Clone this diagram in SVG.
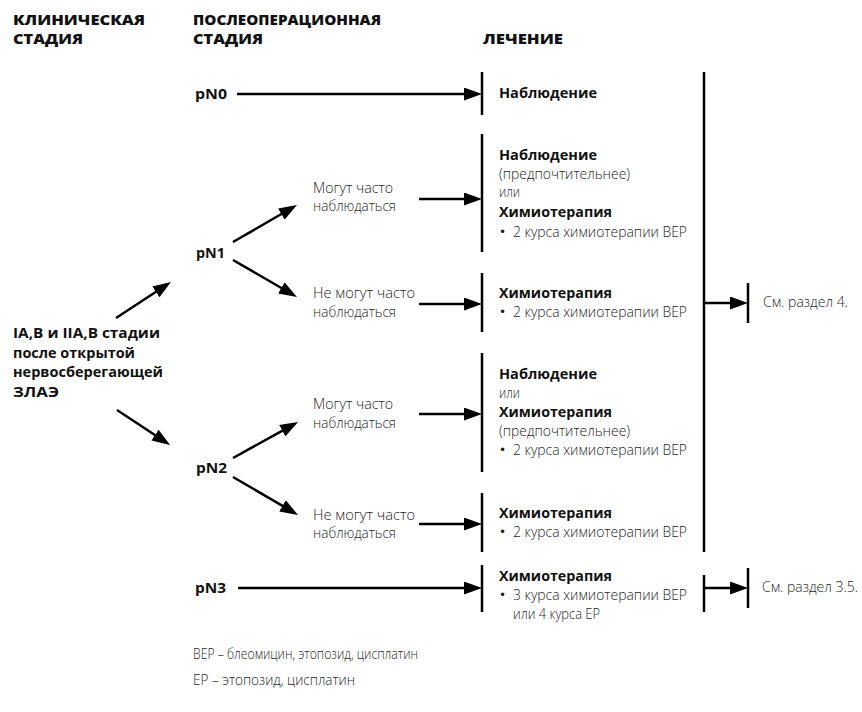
<svg xmlns="http://www.w3.org/2000/svg" width="862" height="712" viewBox="0 0 862 712">
<style>
.h{font-family:"Open Sans","Noto Sans",sans-serif;font-weight:800;font-size:14.5px;fill:#111}
.b{font-family:"Open Sans","Noto Sans",sans-serif;font-weight:700;font-size:14px;fill:#111}
.l{font-family:"Open Sans","Noto Sans",sans-serif;font-weight:300;font-size:14.5px;fill:#1e1e1e}
.dot{font-family:"DejaVu Sans",sans-serif;font-size:12px;fill:#1e1e1e}
.ln{stroke:#000;stroke-width:2.5;fill:none}
.bar{stroke:#000;stroke-width:2.5;fill:none}
</style>
<defs>
<marker id="ah" markerUnits="userSpaceOnUse" markerWidth="18" markerHeight="13" refX="8" refY="6.5" orient="auto">
<path d="M0,0 L18,6.5 L0,13 z" fill="#000"/>
</marker>
</defs>
<rect width="862" height="712" fill="#fff"/>
<g id="headers">
<text class="h" x="13" y="25" textLength="132" lengthAdjust="spacingAndGlyphs">КЛИНИЧЕСКАЯ</text>
<text class="h" x="13" y="44" textLength="70" lengthAdjust="spacingAndGlyphs">СТАДИЯ</text>
<text class="h" x="193" y="25" textLength="188" lengthAdjust="spacingAndGlyphs">ПОСЛЕОПЕРАЦИОННАЯ</text>
<text class="h" x="193" y="44" textLength="70" lengthAdjust="spacingAndGlyphs">СТАДИЯ</text>
<text class="h" x="483" y="44" textLength="80" lengthAdjust="spacingAndGlyphs">ЛЕЧЕНИЕ</text>
</g>
<g id="clinical">
<text class="b" x="13" y="338" textLength="147" lengthAdjust="spacingAndGlyphs">IA,B и IIA,B стадии</text>
<text class="b" x="13" y="358" textLength="122" lengthAdjust="spacingAndGlyphs">после открытой</text>
<text class="b" x="13" y="377" textLength="150" lengthAdjust="spacingAndGlyphs">нервосберегающей</text>
<text class="b" x="13" y="397" textLength="46" lengthAdjust="spacingAndGlyphs">ЗЛАЭ</text>
</g>
<g id="pN0"><text class="b" x="195" y="99" textLength="32" lengthAdjust="spacingAndGlyphs">pN0</text></g>
<g id="pN1"><text class="b" x="196" y="258" textLength="29" lengthAdjust="spacingAndGlyphs">pN1</text></g>
<g id="pN2"><text class="b" x="196" y="473" textLength="31" lengthAdjust="spacingAndGlyphs">pN2</text></g>
<g id="pN3"><text class="b" x="195" y="593" textLength="31" lengthAdjust="spacingAndGlyphs">pN3</text></g>
<g id="pN1-yes">
<text class="l" x="313" y="193" textLength="80" lengthAdjust="spacingAndGlyphs">Могут часто</text>
<text class="l" x="313" y="211" textLength="83" lengthAdjust="spacingAndGlyphs">наблюдаться</text>
</g>
<g id="pN1-no">
<text class="l" x="313" y="298" textLength="102" lengthAdjust="spacingAndGlyphs">Не могут часто</text>
<text class="l" x="313" y="317" textLength="83" lengthAdjust="spacingAndGlyphs">наблюдаться</text>
</g>
<g id="pN2-yes">
<text class="l" x="313" y="409" textLength="80" lengthAdjust="spacingAndGlyphs">Могут часто</text>
<text class="l" x="313" y="428" textLength="83" lengthAdjust="spacingAndGlyphs">наблюдаться</text>
</g>
<g id="pN2-no">
<text class="l" x="313" y="520" textLength="102" lengthAdjust="spacingAndGlyphs">Не могут часто</text>
<text class="l" x="313" y="538" textLength="83" lengthAdjust="spacingAndGlyphs">наблюдаться</text>
</g>
<g id="treat1">
<line class="bar" x1="482" y1="72" x2="482" y2="115"/>
<text class="b" x="499" y="98" textLength="98" lengthAdjust="spacingAndGlyphs">Наблюдение</text>
</g>
<g id="treat2">
<line class="bar" x1="482" y1="134" x2="482" y2="252"/>
<text class="b" x="499" y="160" textLength="98" lengthAdjust="spacingAndGlyphs">Наблюдение</text>
<text class="l" x="499" y="179" textLength="131" lengthAdjust="spacingAndGlyphs">(предпочтительнее)</text>
<text class="l" x="499" y="197" textLength="21" lengthAdjust="spacingAndGlyphs">или</text>
<text class="b" x="499" y="217" textLength="113" lengthAdjust="spacingAndGlyphs">Химиотерапия</text>
<text class="dot" x="499" y="236">•</text>
<text class="l" x="513" y="237" textLength="174" lengthAdjust="spacingAndGlyphs">2 курса химиотерапии BEP</text>
</g>
<g id="treat3">
<line class="bar" x1="482" y1="273" x2="482" y2="332"/>
<text class="b" x="499" y="298" textLength="113" lengthAdjust="spacingAndGlyphs">Химиотерапия</text>
<text class="dot" x="499" y="316">•</text>
<text class="l" x="513" y="317" textLength="174" lengthAdjust="spacingAndGlyphs">2 курса химиотерапии BEP</text>
</g>
<g id="treat4">
<line class="bar" x1="482" y1="353" x2="482" y2="472"/>
<text class="b" x="499" y="379" textLength="98" lengthAdjust="spacingAndGlyphs">Наблюдение</text>
<text class="l" x="499" y="398" textLength="21" lengthAdjust="spacingAndGlyphs">или</text>
<text class="b" x="499" y="417" textLength="113" lengthAdjust="spacingAndGlyphs">Химиотерапия</text>
<text class="l" x="499" y="436" textLength="131" lengthAdjust="spacingAndGlyphs">(предпочтительнее)</text>
<text class="dot" x="499" y="454">•</text>
<text class="l" x="513" y="455" textLength="174" lengthAdjust="spacingAndGlyphs">2 курса химиотерапии BEP</text>
</g>
<g id="treat5">
<line class="bar" x1="482" y1="493" x2="482" y2="552"/>
<text class="b" x="499" y="518" textLength="113" lengthAdjust="spacingAndGlyphs">Химиотерапия</text>
<text class="dot" x="499" y="536">•</text>
<text class="l" x="513" y="537" textLength="174" lengthAdjust="spacingAndGlyphs">2 курса химиотерапии BEP</text>
</g>
<g id="treat6">
<line class="bar" x1="482" y1="565" x2="482" y2="612"/>
<text class="b" x="499" y="581" textLength="113" lengthAdjust="spacingAndGlyphs">Химиотерапия</text>
<text class="dot" x="499" y="599">•</text>
<text class="l" x="513" y="600" textLength="174" lengthAdjust="spacingAndGlyphs">3 курса химиотерапии BEP</text>
<text class="l" x="513" y="619" textLength="87" lengthAdjust="spacingAndGlyphs">или 4 курса EP</text>
</g>
<g id="collect">
<line class="bar" x1="704" y1="72" x2="704" y2="552"/>
<line class="bar" x1="704" y1="575" x2="704" y2="612"/>
</g>
<g id="ref4">
<line class="bar" x1="748" y1="283" x2="748" y2="323"/>
<text class="l" x="763" y="307" textLength="85" lengthAdjust="spacingAndGlyphs">См. раздел 4.</text>
</g>
<g id="ref35">
<line class="bar" x1="748" y1="568" x2="748" y2="608"/>
<text class="l" x="762" y="592" textLength="96" lengthAdjust="spacingAndGlyphs">См. раздел 3.5.</text>
</g>
<g id="connectors">
<line class="ln" x1="116" y1="318" x2="162.6" y2="287.5" marker-end="url(#ah)"/>
<line class="ln" x1="117" y1="410" x2="161.7" y2="439.5" marker-end="url(#ah)"/>
<line class="ln" x1="233" y1="242" x2="288.3" y2="210" marker-end="url(#ah)"/>
<line class="ln" x1="233" y1="260" x2="288.3" y2="292" marker-end="url(#ah)"/>
<line class="ln" x1="233" y1="458" x2="289.3" y2="426.8" marker-end="url(#ah)"/>
<line class="ln" x1="233" y1="477" x2="289.4" y2="509.9" marker-end="url(#ah)"/>
<line class="ln" x1="237" y1="94" x2="472" y2="94" marker-end="url(#ah)"/>
<line class="ln" x1="419" y1="199" x2="472" y2="199" marker-end="url(#ah)"/>
<line class="ln" x1="419" y1="304" x2="472" y2="304" marker-end="url(#ah)"/>
<line class="ln" x1="419" y1="414" x2="472" y2="414" marker-end="url(#ah)"/>
<line class="ln" x1="419" y1="524" x2="472" y2="524" marker-end="url(#ah)"/>
<line class="ln" x1="238" y1="588" x2="472" y2="588" marker-end="url(#ah)"/>
<line class="ln" x1="704" y1="303" x2="738" y2="303" marker-end="url(#ah)"/>
<line class="ln" x1="704" y1="588" x2="738" y2="588" marker-end="url(#ah)"/>
</g>
<g id="legend">
<text class="l" x="193" y="659" textLength="225" lengthAdjust="spacingAndGlyphs">BEP – блеомицин, этопозид, цисплатин</text>
<text class="l" x="193" y="685" textLength="162" lengthAdjust="spacingAndGlyphs">EP – этопозид, цисплатин</text>
</g>
</svg>
